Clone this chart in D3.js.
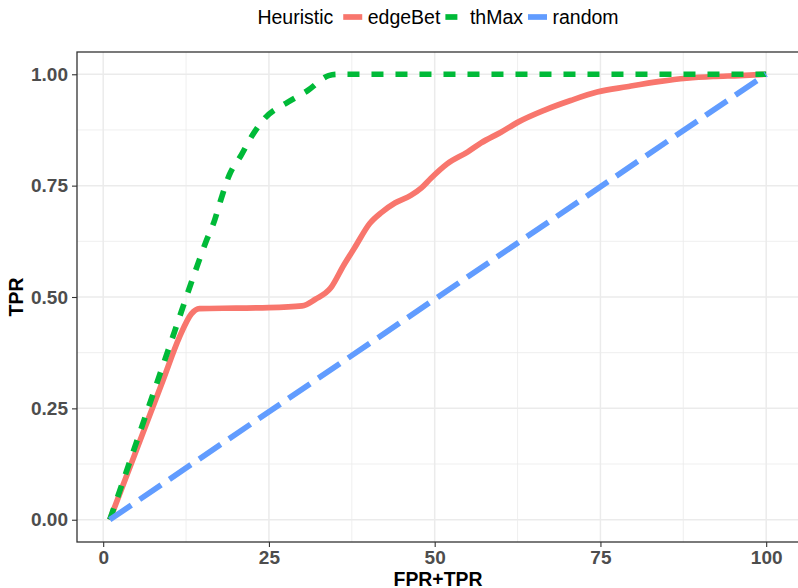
<!DOCTYPE html>
<html>
<head>
<meta charset="utf-8">
<script src="https://cdn.jsdelivr.net/npm/d3@7"></script>
<style>
  html, body { margin: 0; padding: 0; background: #ffffff; }
  svg { display: block; font-family: "Liberation Sans", Arial, Helvetica, sans-serif; }
</style>
</head>
<body>
<svg id="chart" width="798" height="588"></svg>
<script>
// Series: FPR+TPR (x) against TPR (y) for each heuristic
const heuristics = ["edgeBet", "thMax", "random"];

const edgeBetX = [1, 5, 9, 11.5, 13.3, 14.5, 20, 25, 30, 32, 34.3, 36.3, 37.9, 40.2, 42, 44, 46.4, 48, 49.4, 51.9, 55, 57, 60, 62.5, 66.5, 70.5, 74.5, 79, 84, 88, 92, 96, 100];
const edgeBetY = [0, 0.156, 0.312, 0.41, 0.462, 0.474, 0.475, 0.476, 0.48, 0.495, 0.52, 0.572, 0.61, 0.665, 0.69, 0.711, 0.728, 0.745, 0.766, 0.799, 0.826, 0.846, 0.87, 0.892, 0.919, 0.941, 0.96, 0.972, 0.984, 0.991, 0.995, 0.997, 1.0];

const thMaxX = [1, 5, 10, 14.3, 15.5, 16.8, 17.8, 19.0, 20.8, 22.5, 24.3, 27.8, 30.8, 34.0, 35.2, 100];
const thMaxY = [0, 0.173, 0.389, 0.575, 0.624, 0.672, 0.721, 0.773, 0.818, 0.863, 0.9, 0.937, 0.963, 0.997, 1.0, 1.0];

const randomX = [1, 100];
const randomY = [0, 1];

const xTicks = [0, 25, 50, 75, 100];
const yTicks = [0, 0.25, 0.5, 0.75, 1.0];
const xMinor = [12.5, 37.5, 62.5, 87.5];
const yMinor = [0.125, 0.375, 0.625, 0.875];

const colors = { edgeBet: "#F8766D", thMax: "#00BA38", random: "#619CFF" };
const dashes = { edgeBet: null, thMax: "12,12", random: "26,10" };

const seriesXs = { edgeBet: edgeBetX, thMax: thMaxX, random: randomX };
const seriesYs = { edgeBet: edgeBetY, thMax: thMaxY, random: randomY };

const svg = d3.select("#chart");

// panel box
const panel = { left: 77, right: 799, top: 52, bottom: 542 };

// 5% expansion around the data range
const xLo = 1, xHi = 100, yLo = 0, yHi = 1;
const xPad = (xHi - xLo) * 0.05, yPad = (yHi - yLo) * 0.05;
const x = d3.scaleLinear().domain([xLo - xPad, xHi + xPad]).range([panel.left, panel.right]);
const y = d3.scaleLinear().domain([yLo - yPad, yHi + yPad]).range([panel.bottom, panel.top]);

const defs = svg.append("defs");
defs.append("clipPath").attr("id", "panelClip")
  .append("rect")
  .attr("x", panel.left).attr("y", panel.top)
  .attr("width", panel.right - panel.left).attr("height", panel.bottom - panel.top);

// panel background
svg.append("rect")
  .attr("x", panel.left).attr("y", panel.top)
  .attr("width", panel.right - panel.left).attr("height", panel.bottom - panel.top)
  .attr("fill", "#ffffff");

// grid
const grid = svg.append("g").attr("clip-path", "url(#panelClip)");
grid.selectAll("line.xminor").data(xMinor).join("line")
  .attr("x1", d => x(d)).attr("x2", d => x(d))
  .attr("y1", panel.top).attr("y2", panel.bottom)
  .attr("stroke", "#EBEBEB").attr("stroke-width", 0.8);
grid.selectAll("line.yminor").data(yMinor).join("line")
  .attr("y1", d => y(d)).attr("y2", d => y(d))
  .attr("x1", panel.left).attr("x2", panel.right)
  .attr("stroke", "#EBEBEB").attr("stroke-width", 0.8);
grid.selectAll("line.xmajor").data(xTicks).join("line")
  .attr("x1", d => x(d)).attr("x2", d => x(d))
  .attr("y1", panel.top).attr("y2", panel.bottom)
  .attr("stroke", "#EBEBEB").attr("stroke-width", 1.5);
grid.selectAll("line.ymajor").data(yTicks).join("line")
  .attr("y1", d => y(d)).attr("y2", d => y(d))
  .attr("x1", panel.left).attr("x2", panel.right)
  .attr("stroke", "#EBEBEB").attr("stroke-width", 1.5);

// series lines (smooth through the sampled points)
const line = d3.line().x(d => x(d[0])).y(d => y(d[1])).curve(d3.curveMonotoneX);
const plot = svg.append("g").attr("clip-path", "url(#panelClip)");
heuristics.forEach(h => {
  const pts = seriesXs[h].map((v, i) => [v, seriesYs[h][i]]);
  plot.append("path")
    .datum(pts)
    .attr("d", line)
    .attr("fill", "none")
    .attr("stroke", colors[h])
    .attr("stroke-width", 5.7)
    .attr("stroke-linejoin", "round")
    .attr("stroke-linecap", "butt")
    .attr("stroke-dasharray", dashes[h]);
});

// panel border
svg.append("rect")
  .attr("x", panel.left).attr("y", panel.top)
  .attr("width", panel.right - panel.left).attr("height", panel.bottom - panel.top)
  .attr("fill", "none").attr("stroke", "#333333").attr("stroke-width", 1.3);

// axes
const tickFont = 19;
const xAxis = d3.axisBottom(x).tickValues(xTicks).tickSize(5).tickPadding(4).tickFormat(d3.format("d"));
const yAxis = d3.axisLeft(y).tickValues(yTicks).tickSize(5).tickPadding(4).tickFormat(d3.format(".2f"));

const gx = svg.append("g").attr("transform", `translate(0,${panel.bottom})`).call(xAxis);
const gy = svg.append("g").attr("transform", `translate(${panel.left},0)`).call(yAxis);
[gx, gy].forEach(g => {
  g.select(".domain").remove();
  g.selectAll(".tick line").attr("stroke", "#333333").attr("stroke-width", 1.1);
  g.selectAll(".tick text")
    .attr("fill", "#4D4D4D")
    .attr("font-size", tickFont)
    .attr("font-weight", "bold")
    .attr("font-family", "'Liberation Sans', Arial, sans-serif");
});

// axis titles
svg.append("text")
  .attr("x", (panel.left + panel.right) / 2).attr("y", 585.5)
  .attr("text-anchor", "middle")
  .attr("font-size", 19.4).attr("font-weight", "bold").attr("fill", "#000")
  .text("FPR+TPR");
svg.append("text")
  .attr("transform", `translate(23,${(panel.top + panel.bottom) / 2}) rotate(-90)`)
  .attr("text-anchor", "middle")
  .attr("font-size", 19.4).attr("font-weight", "bold").attr("fill", "#000")
  .text("TPR");

// legend across the top
const legend = svg.append("g");
const legendFont = 19.5, keyW = 19, keyGap = 5.5, itemGap = 5, titleGap = 10;
const legendY = 17;
const title = legend.append("text")
  .attr("x", 0).attr("y", legendY).attr("dy", "0.35em")
  .attr("font-size", legendFont).attr("fill", "#000")
  .text("Heuristic");
let cx = title.node().getComputedTextLength() + titleGap;
heuristics.forEach((h, i) => {
  legend.append("line")
    .attr("x1", cx).attr("x2", cx + keyW)
    .attr("y1", legendY).attr("y2", legendY)
    .attr("stroke", colors[h]).attr("stroke-width", 5.7)
    .attr("stroke-linecap", "butt")
    .attr("stroke-dasharray", dashes[h]);
  cx += keyW + keyGap;
  const t = legend.append("text")
    .attr("x", cx).attr("y", legendY).attr("dy", "0.35em")
    .attr("font-size", legendFont).attr("fill", "#000")
    .text(h);
  cx += t.node().getComputedTextLength() + (i < heuristics.length - 1 ? itemGap : 0);
});
legend.attr("transform", `translate(${(panel.left + panel.right) / 2 - cx / 2},0)`);
</script>
</body>
</html>
